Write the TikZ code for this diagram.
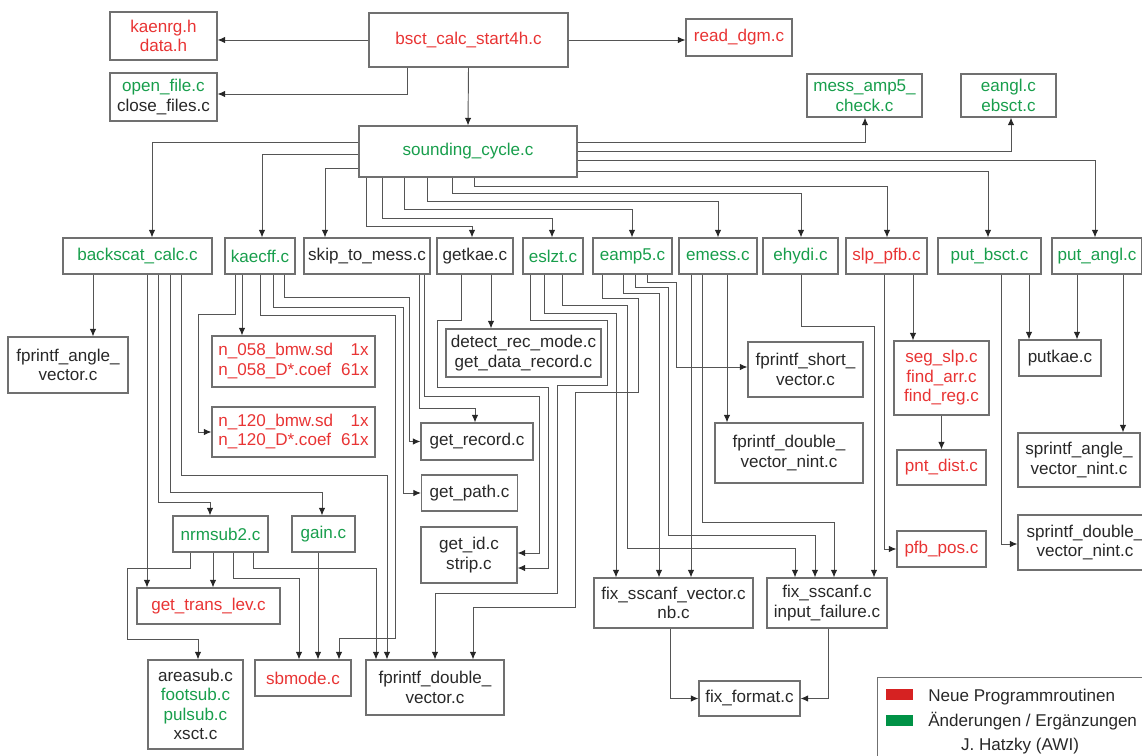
\documentclass[tikz,border=0pt]{standalone}
\usepackage{fontspec}
\setmainfont{Liberation Sans}
\usetikzlibrary{arrows.meta}

\definecolor{newred}{RGB}{232,52,52}
\definecolor{chggreen}{RGB}{24,158,76}
\definecolor{txtgray}{RGB}{40,40,40}
\definecolor{boxgray}{RGB}{112,112,112}
\definecolor{linegray}{RGB}{85,85,85}
\definecolor{legred}{RGB}{214,34,34}
\definecolor{leggreen}{RGB}{0,146,70}

\begin{document}
\begin{tikzpicture}[x=0.75pt, y=-0.75pt, >={Latex[length=5.6pt,width=4.8pt,color=black!85]},
        boxsize/.style 2 args={minimum width=#1*0.75pt, minimum height=#2*0.75pt},
        box/.style={draw=boxgray, line width=0.9pt, inner sep=0pt, align=center, text=txtgray, font=\fontsize{12.8}{14.6}\selectfont},
        neu/.style={box, text=newred},
        mod/.style={box, text=chggreen},
        link/.style={draw=linegray, line width=0.7pt, ->},
        legtext/.style={inner sep=0pt, text=txtgray, font=\fontsize{12.8}{14.6}\selectfont}]
        \useasboundingbox (0,0) rectangle (1142,756);
        \clip (0,0) rectangle (1142,756);

        % main program and its direct calls
        \node [neu, boxsize={199}{54}] (bsct) at (468.5,40) {bsct\_calc\_start4h.c};
        \node [neu, boxsize={107}{48}] (kaenrg) at (163.5,36) {kaenrg.h\\data.h};
        \node [box, boxsize={107}{48}] (openf) at (163.5,97) {\textcolor{chggreen}{open\_file.c}\\close\_files.c};
        \node [neu, boxsize={106}{37}] (readdgm) at (739,37.5) {read\_dgm.c};
        \node [mod, boxsize={218}{51}] (sc) at (468,151.5) {sounding\_cycle.c};
        \node [mod, boxsize={115}{43}] (messamp) at (864.5,95.5) {mess\_amp5\_\\check.c};
        \node [mod, boxsize={95}{43}] (eangl) at (1008.5,95.5) {eangl.c\\ebsct.c};

        % routines called by sounding_cycle.c
        \node [mod, boxsize={149}{36}] (backscat) at (137.5,256) {backscat\_calc.c};
        \node [mod, boxsize={70}{36}] (kaecff) at (260,256) {kaecff.c};
        \node [box, boxsize={126}{36}] (skip) at (367,256) {skip\_to\_mess.c};
        \node [box, boxsize={76}{36}] (getkae) at (475,256) {getkae.c};
        \node [mod, boxsize={60}{36}] (eslzt) at (553,256) {eslzt.c};
        \node [mod, boxsize={79}{36}] (eamp) at (632.5,256) {eamp5.c};
        \node [mod, boxsize={78}{36}] (emess) at (718,256) {emess.c};
        \node [mod, boxsize={75}{36}] (ehydi) at (800.5,256) {ehydi.c};
        \node [neu, boxsize={81}{36}] (slppfb) at (886.5,256) {slp\_pfb.c};
        \node [mod, boxsize={103}{36}] (putbsct) at (989.5,256) {put\_bsct.c};
        \node [mod, boxsize={90}{36}] (putangl) at (1097,256) {put\_angl.c};

        % helpers
        \node [box, boxsize={120}{56}] (fangle) at (68,365) {fprintf\_angle\_\\vector.c};
        \node [neu, boxsize={163}{51}] (n058) at (293.5,361.5) {\begin{tabular}{@{}l@{\hspace{6pt}}r@{}}n\_058\_bmw.sd & 1x\\ n\_058\_D*.coef & 61x\end{tabular}};
        \node [neu, boxsize={163}{50}] (n120) at (293.5,432) {\begin{tabular}{@{}l@{\hspace{6pt}}r@{}}n\_120\_bmw.sd & 1x\\ n\_120\_D*.coef & 61x\end{tabular}};
        \node [box, boxsize={155}{48}] (detect) at (523.5,353) {detect\_rec\_mode.c\\get\_data\_record.c};
        \node [box, boxsize={112}{37}] (getrec) at (477,441.5) {get\_record.c};
        \node [box, boxsize={96}{36}] (getpath) at (469.5,493) {get\_path.c};
        \node [box, boxsize={96}{56}] (getid) at (469,555) {get\_id.c\\strip.c};
        \node [box, boxsize={115}{55}] (fshort) at (805.5,369.5) {fprintf\_short\_\\vector.c};
        \node [box, boxsize={148}{60}] (fdnint) at (789,453) {fprintf\_double\_\\vector\_nint.c};
        \node [neu, boxsize={95}{74}] (segslp) at (941.5,378) {seg\_slp.c\\find\_arr.c\\find\_reg.c};
        \node [neu, boxsize={89}{35}] (pntdist) at (941.5,467.5) {pnt\_dist.c};
        \node [box, boxsize={82}{36}] (putkae) at (1060,358) {putkae.c};
        \node [box, boxsize={122}{54}] (sangle) at (1079,460) {sprintf\_angle\_\\vector\_nint.c};
        \node [neu, boxsize={89}{36}] (pfbpos) at (941.5,549) {pfb\_pos.c};
        \node [box, boxsize={134}{55}] (sdnint) at (1085,542.5) {sprintf\_double\_\\vector\_nint.c};

        \node [mod, boxsize={95}{36}] (nrmsub) at (220.5,534) {nrmsub2.c};
        \node [mod, boxsize={63}{36}] (gain) at (323.5,534) {gain.c};
        \node [neu, boxsize={143}{36}] (gettrans) at (208.5,606) {get\_trans\_lev.c};
        \node [box, boxsize={95}{89}] (areasub) at (195.5,704.5) {areasub.c\\\textcolor{chggreen}{footsub.c}\\\textcolor{chggreen}{pulsub.c}\\xsct.c};
        \node [neu, boxsize={96}{36}] (sbmode) at (303,678) {sbmode.c};
        \node [box, boxsize={138}{55}] (fdvec) at (435,687.5) {fprintf\_double\_\\vector.c};
        \node [box, boxsize={159}{50}] (fsvec) at (673.5,603) {fix\_sscanf\_vector.c\\nb.c};
        \node [box, boxsize={120}{50}] (fsscanf) at (827,603) {fix\_sscanf.c\\input\_failure.c};
        \node [box, boxsize={101}{35}] (fixformat) at (749.5,698.5) {fix\_format.c};

        % legend
        \node [draw=boxgray, line width=0.9pt, boxsize={280}{90}, anchor=north west] (legend) at (877,677) {};
        \node [fill=legred, inner sep=0pt, boxsize={27}{11}] (swred) at (899.5,694.5) {};
        \node [fill=leggreen, inner sep=0pt, boxsize={27}{11}] (swgreen) at (899.5,720) {};
        \node [legtext, anchor=base west] (legneu) at (928,701) {Neue Programmroutinen};
        \node [legtext, anchor=base west] (legmod) at (928,726) {Änderungen / Ergänzungen};
        \node [legtext, anchor=base] (legauthor) at (1020,750) {J. Hatzky (AWI)};

        % bsct_calc_start4h.c
        \draw [link] (bsct.west) -- (bsct.west -| kaenrg.east);
        \draw [link] (407,0 |- bsct.south) |- (openf.east |- 0,94);
        \draw [link] (bsct.south) -- (sc.north);
        \draw [link] (bsct.east) -- (bsct.east -| readdgm.west);

        % sounding_cycle.c
        \draw [link] (sc.west |- 0,142) -| (152,0 |- backscat.north);
        \draw [link] (sc.west |- 0,154) -| (262,0 |- kaecff.north);
        \draw [link] (sc.west |- 0,168) -| (325,0 |- skip.north);
        \draw [link] (366,0 |- sc.south) -- (366,226) -| (472,0 |- getkae.north);
        \draw [link] (382,0 |- sc.south) -- (382,218) -| (552,0 |- eslzt.north);
        \draw [link] (404,0 |- sc.south) -- (404,209) -| (632,0 |- eamp.north);
        \draw [link] (427,0 |- sc.south) -- (427,201) -| (718,0 |- emess.north);
        \draw [link] (452,0 |- sc.south) -- (452,193) -| (801,0 |- ehydi.north);
        \draw [link] (474,0 |- sc.south) -- (474,186) -| (887,0 |- slppfb.north);
        \draw [link] (sc.east |- 0,142) -| (865,0 |- messamp.south);
        \draw [link] (sc.east |- 0,151) -| (1011,0 |- eangl.south);
        \draw [link] (sc.east |- 0,160) -| (1095,0 |- putangl.north);
        \draw [link] (sc.east |- 0,171) -| (988,0 |- putbsct.north);

        % backscat_calc.c
        \draw [link] (93,0 |- backscat.south) -- (93,0 |- fangle.north);
        \draw [link] (147,0 |- backscat.south) -- (147,0 |- gettrans.north);
        \draw [link] (158,0 |- backscat.south) -- (158,502) -| (210,0 |- nrmsub.north);
        \draw [link] (170,0 |- backscat.south) -- (170,492) -| (322,0 |- gain.north);
        \draw [link] (181,0 |- backscat.south) -- (181,475) -| (387,0 |- fdvec.north);

        % kaecff.c
        \draw [link] (235,0 |- kaecff.south) |- (198,314) |- (n120.west);
        \draw [link] (242,0 |- kaecff.south) -- (242,0 |- n058.north);
        \draw [link] (260,0 |- kaecff.south) |- (395,315) |- (339,638) -- (339,0 |- sbmode.north);
        \draw [link] (273,0 |- kaecff.south) |- (403,307) |- (getpath.west);
        \draw [link] (284,0 |- kaecff.south) |- (409,297) |- (getrec.west);

        % skip_to_mess.c and getkae.c
        \draw [link] (419,0 |- skip.south) |- (475,408) -- (475,0 |- getrec.north);
        \draw [link] (424,0 |- skip.south) |- (539,396) |- (getid.east |- 0,553);
        \draw [link] (461,0 |- getkae.south) |- (437,320) |- (548,387) |- (getid.east |- 0,568);
        \draw [link] (491,0 |- getkae.south) -- (491,0 |- detect.north);

        % eslzt.c
        \draw [link] (530,0 |- eslzt.south) |- (607,320) |- (557,385) |- (435,593) -- (435,0 |- fdvec.north);
        \draw [link] (544,0 |- eslzt.south) |- (616,313) -- (616,0 |- fsvec.north);
        \draw [link] (562,0 |- eslzt.south) |- (627,305) |- (795,548) -- (795,0 |- fsscanf.north);

        % eamp5.c
        \draw [link] (602,0 |- eamp.south) |- (638,298) |- (575,392) |- (473,607) -- (473,0 |- fdvec.north);
        \draw [link] (623,0 |- eamp.south) |- (659,293) -- (659,0 |- fsvec.north);
        \draw [link] (635,0 |- eamp.south) |- (668,287) |- (815,535) -- (815,0 |- fsscanf.north);
        \draw [link] (647,0 |- eamp.south) |- (676,282) |- (fshort.west |- 0,367);

        % emess.c and ehydi.c
        \draw [link] (691,0 |- emess.south) -- (691,0 |- fsvec.north);
        \draw [link] (702,0 |- emess.south) |- (834,522) -- (834,0 |- fsscanf.north);
        \draw [link] (727,0 |- emess.south) -- (727,0 |- fdnint.north);
        \draw [link] (801,0 |- ehydi.south) |- (874,326) -- (874,0 |- fsscanf.north);

        % slp_pfb.c, put_bsct.c, put_angl.c
        \draw [link] (884,0 |- slppfb.south) |- (pfbpos.west);
        \draw [link] (913,0 |- slppfb.south) -- (913,0 |- segslp.north);
        \draw [link] (segslp) -- (pntdist);
        \draw [link] (1001,0 |- putbsct.south) |- (sdnint.west |- 0,544);
        \draw [link] (1029,0 |- putbsct.south) -- (1029,0 |- putkae.north);
        \draw [link] (1077,0 |- putangl.south) -- (1077,0 |- putkae.north);
        \draw [link] (1123,0 |- putangl.south) -- (1123,0 |- sangle.north);

        % nrmsub2.c and gain.c
        \draw [link] (190,0 |- nrmsub.south) |- (127,568) |- (198,639) -- (198,0 |- areasub.north);
        \draw [link] (213,0 |- nrmsub.south) -- (213,0 |- gettrans.north);
        \draw [link] (233,0 |- nrmsub.south) |- (299,578) -- (299,0 |- sbmode.north);
        \draw [link] (253,0 |- nrmsub.south) |- (376,568) -- (376,0 |- fdvec.north);
        \draw [link] (318,0 |- gain.south) -- (318,0 |- sbmode.north);

        % fix_format.c
        \draw [link] (670,0 |- fsvec.south) |- (fixformat.west);
        \draw [link] (828,0 |- fsscanf.south) |- (fixformat.east);

    \end{tikzpicture}
\end{document}
